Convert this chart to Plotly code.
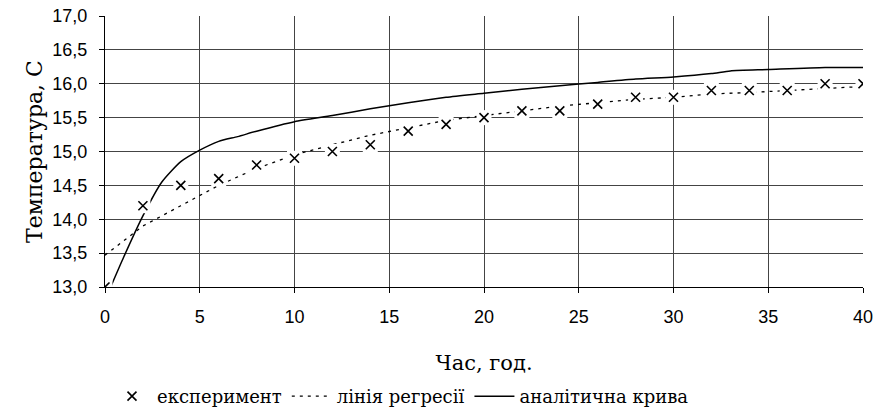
import plotly.graph_objects as go

# Experimental data
exp_x = [0, 2, 4, 6, 8, 10, 12, 14, 16, 18, 20, 22, 24, 26, 28, 30, 32, 34, 36, 38, 40]
exp_y = [13.0, 14.2, 14.5, 14.6, 14.8, 14.9, 15.0, 15.1, 15.3, 15.4, 15.5, 15.6, 15.6,
         15.7, 15.8, 15.8, 15.9, 15.9, 15.9, 16.0, 16.0]

# Regression line
reg_x = [0, 2, 4, 6, 8, 10, 12, 14, 16, 18, 20, 22, 24, 26, 28, 30, 32, 34, 36, 38, 40]
reg_y = [13.47, 13.9, 14.2, 14.5, 14.75, 14.95, 15.1, 15.24, 15.35, 15.46, 15.53, 15.6,
         15.67, 15.72, 15.77, 15.8, 15.85, 15.87, 15.9, 15.93, 15.96]

# Analytical curve
ana_x = [0.3, 1, 2, 3, 4, 5, 6, 7, 8, 10, 12, 14, 16, 18, 20, 22, 24, 26, 28, 30, 32, 33, 35, 38, 40]
ana_y = [13.0, 13.45, 14.05, 14.55, 14.85, 15.02, 15.15, 15.22, 15.3, 15.44, 15.53, 15.63,
         15.72, 15.8, 15.86, 15.92, 15.97, 16.02, 16.07, 16.1, 16.15, 16.19, 16.21, 16.24, 16.24]

x_title = "Час, год."
y_title = "Температура, С"
names = ["експеримент", "лінія регресії", "аналітична крива"]

serif = "DejaVu Serif"
sans = "Liberation Sans, Arial"

fig = go.Figure()
fig.add_trace(go.Scatter(x=reg_x, y=reg_y, mode="lines", name=names[1],
                         line=dict(color="black", width=1.3, dash="3px,5px"),
                         legendrank=2))
fig.add_trace(go.Scatter(x=ana_x, y=ana_y, mode="lines", name=names[2],
                         line=dict(color="black", width=1.5, shape="spline", smoothing=0.6),
                         legendrank=3))
fig.add_trace(go.Scatter(x=exp_x, y=exp_y, mode="markers", showlegend=False, hoverinfo="skip",
                         marker=dict(symbol="square", size=15, color="white",
                                     line=dict(width=0))))
fig.add_trace(go.Scatter(x=exp_x, y=exp_y, mode="markers", name=names[0],
                         marker=dict(symbol="x-thin", size=9, color="black",
                                     line=dict(width=1.6, color="black")),
                         legendrank=1))

fig.update_layout(
    width=877, height=413,
    margin=dict(l=105, r=14, t=16, b=126, autoexpand=False),
    paper_bgcolor="white", plot_bgcolor="white",
    separators=", ",
    showlegend=True,
    legend=dict(orientation="h", xref="container", x=0.122, xanchor="left",
                yref="container", y=0.04, yanchor="middle",
                font=dict(family=serif, size=18, color="black"),
                itemwidth=40, traceorder="normal"),
    xaxis=dict(range=[0, 40], dtick=5, tick0=0, automargin=False,
               showline=True, linecolor="black", linewidth=1,
               showgrid=True, gridcolor="#444", gridwidth=1,
               ticks="outside", ticklen=5, tickcolor="black",
               ticklabelstandoff=8,
               tickfont=dict(family=sans, size=18, color="black"),
               title=dict(text=x_title, font=dict(family=serif, size=21, color="black"),
                          standoff=29),
               zeroline=False),
    yaxis=dict(range=[13, 17], dtick=0.5, tick0=13, tickformat=".1f", automargin=False,
               showline=True, linecolor="black", linewidth=1,
               showgrid=True, gridcolor="#444", gridwidth=1,
               ticks="outside", ticklen=5, tickcolor="black",
               ticklabelstandoff=8,
               tickfont=dict(family=sans, size=18, color="black"),
               title=dict(text=y_title, font=dict(family=serif, size=22, color="black"),
                          standoff=3),
               zeroline=False),
)

fig.write_html("out.html", post_script="document.body.style.margin='0';",
               config={"displayModeBar": False})
